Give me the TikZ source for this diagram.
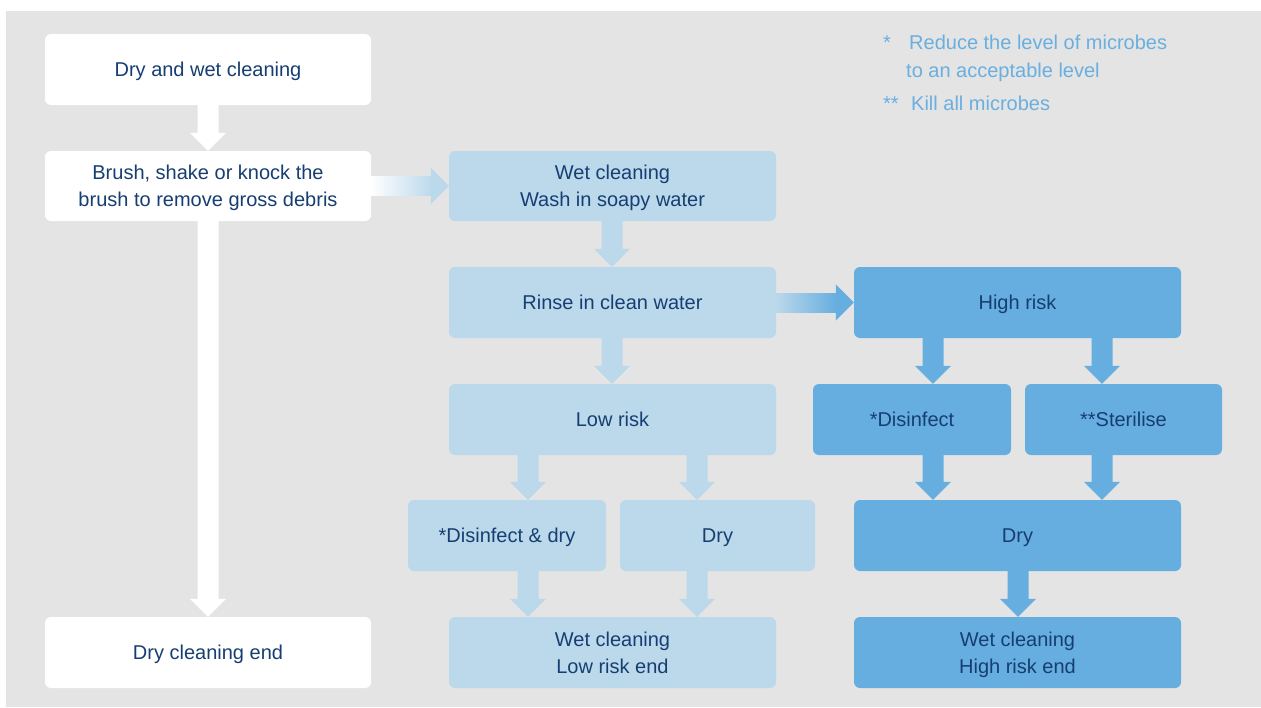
\documentclass[tikz,border=0pt]{standalone}
\usepackage{fontspec}
\setmainfont{Liberation Sans}
\usetikzlibrary{calc}
\definecolor{bg}{HTML}{E3E4E3}
\definecolor{lb}{HTML}{BCD9EB}
\definecolor{mb}{HTML}{66AEDF}
\definecolor{tx}{HTML}{163E72}
\definecolor{lg}{HTML}{6AAFE0}
\newcommand\varrow[4]{%
  \fill[#4] let \p1=(#1.south), \p2=(#2.north) in
    (#3pt-10.5pt,\y1+1pt) -- (#3pt+10.5pt,\y1+1pt) -- (#3pt+10.5pt,\y2+18pt) --
    (#3pt+18pt,\y2+18pt) -- (#3pt,\y2) -- (#3pt-18pt,\y2+18pt) --
    (#3pt-10.5pt,\y2+18pt) -- cycle;}
\newcommand\harrow[4]{%
  \shade[left color=#3, right color=#4] let \p1=(#1.east), \p2=(#2.west) in
    (\x1-1pt,\y1+9.5pt) -- (\x2-17pt,\y1+9.5pt) -- (\x2-17pt,\y1-9.5pt) -- (\x1-1pt,\y1-9.5pt) -- cycle;
  \fill[#4] let \p1=(#1.east), \p2=(#2.west) in
    (\x2-18pt,\y1+18pt) -- (\x2,\y1) -- (\x2-18pt,\y1-18pt) -- cycle;}
\begin{document}
\begin{tikzpicture}[x=1pt,y=-1pt,
  box/.style={rounded corners=6pt, inner sep=0pt, align=center, text=tx,
    font=\fontsize{20}{27}\selectfont, minimum height=71pt, text depth=-2pt},
  wbox/.style={box, fill=white, minimum width=326pt},
  lbox/.style={box, fill=lb, minimum width=327pt},
  mbox/.style={box, fill=mb, minimum width=327pt},
  sbox/.style={minimum width=197pt},
  legend/.style={inner sep=0pt, anchor=base west, text=lg, font=\fontsize{20}{28}\selectfont}]
\useasboundingbox (0,0) rectangle (1261,707);
\fill[white] (0,0) rectangle (1261,707);
\fill[bg] (6,11) rectangle (1261,707);

% left column
\node[wbox] (n1) at (208,69.5) {Dry and wet cleaning};
\node[wbox, minimum height=70pt] (n2) at (208,186) {Brush, shake or knock the\\brush to remove gross debris};
\node[wbox] (n3) at (208,652.5) {Dry cleaning end};

% middle column
\node[lbox, minimum height=70pt] (w1) at (612.5,186) {Wet cleaning\\Wash in soapy water};
\node[lbox] (w2) at (612.5,302.5) {Rinse in clean water};
\node[lbox] (w3) at (612.5,419.5) {Low risk};
\node[lbox, sbox, minimum width=198pt] (w4) at (507,535.5) {*Disinfect \& dry};
\node[lbox, sbox, minimum width=195pt] (w5) at (717.5,535.5) {Dry};
\node[lbox] (w6) at (612.5,652.5) {Wet cleaning\\Low risk end};

% right column
\node[mbox] (h1) at (1017.5,302.5) {High risk};
\node[mbox, sbox, minimum width=198pt] (h2) at (912,419.5) {*Disinfect};
\node[mbox, sbox] (h3) at (1123.5,419.5) {**Sterilise};
\node[mbox] (h4) at (1017.5,535.5) {Dry};
\node[mbox] (h5) at (1017.5,652.5) {Wet cleaning\\High risk end};

% legend
\node[legend] (l1) at (883,49) {*};
\node[legend] (l2) at (909,49) {Reduce the level of microbes};
\node[legend] (l3) at (906,77) {to an acceptable level};
\node[legend] (l4) at (883,110) {**};
\node[legend] (l5) at (911,110) {Kill all microbes};

% arrows
\varrow{n1}{n2}{208}{white}
\varrow{n2}{n3}{208}{white}
\harrow{n2}{w1}{white}{lb}
\varrow{w1}{w2}{612}{lb}
\varrow{w2}{w3}{612}{lb}
\varrow{w3}{w4}{528}{lb}
\varrow{w3}{w5}{697}{lb}
\varrow{w4}{w6}{528}{lb}
\varrow{w5}{w6}{697}{lb}
\harrow{w2}{h1}{lb}{mb}
\varrow{h1}{h2}{933}{mb}
\varrow{h1}{h3}{1102}{mb}
\varrow{h2}{h4}{933}{mb}
\varrow{h3}{h4}{1102}{mb}
\varrow{h4}{h5}{1018}{mb}
\end{tikzpicture}
\end{document}
